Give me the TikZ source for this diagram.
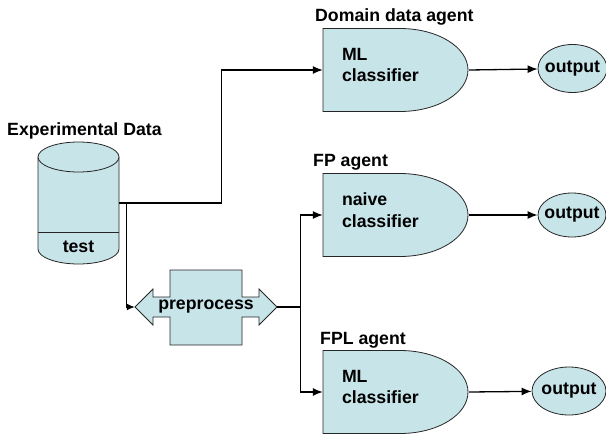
\documentclass[tikz,border=0pt]{standalone}
\usepackage{fontspec}
\setmainfont{Liberation Sans}
\usetikzlibrary{arrows.meta,shapes.geometric}
\definecolor{agentblue}{RGB}{199,228,232}
\tikzset{
  shapebox/.style={draw=black!85,line width=0.8pt,fill=agentblue},
  link/.style={line width=1.3pt,-{Latex[length=10pt,width=8pt]}},
  clsnode/.style={minimum width=146pt,minimum height=83pt,inner sep=0pt,
    text width=108pt,align=left,text depth=31pt},
  outnode/.style={shapebox,ellipse,inner xsep=-4pt,inner ysep=0pt},
  agenttitle/.style={anchor=base west,inner sep=0pt},
}
\begin{document}
\begin{tikzpicture}[x=1pt,y=-1pt,font=\fontsize{17.7}{21.2}\selectfont\bfseries]
    \useasboundingbox (0,0) rectangle (606,434);
    % data store
    \draw[shapebox] (38,157) -- (38,249) arc[start angle=180,end angle=0,x radius=40.5,y radius=15] -- (119,157);
    \draw[shapebox] (78.5,157) ellipse[x radius=40.5,y radius=15];
    \draw[shapebox] (38,232) -- (119,232);
    \node[minimum width=81pt,minimum height=122pt,inner sep=0pt] (db) at (78.5,203) {};
    \node[anchor=base] (ttest) at (78.5,252) {test};
    \node[agenttitle] (tdata) at (7,135.5) {Experimental Data};
    % preprocess
    \draw[shapebox] (135,307) -- (153,289) -- (153,297) -- (170,297) -- (170,270) -- (242,270) -- (242,297)
        -- (259,297) -- (259,289) -- (277,307) -- (259,325) -- (259,317) -- (242,317) -- (242,345)
        -- (170,345) -- (170,317) -- (153,317) -- (153,325) -- cycle;
    \node[minimum width=142pt,minimum height=75pt,inner sep=0pt] (pre) at (206,307) {preprocess};
    % agents
    \foreach \y in {70,215,392}
        \draw[shapebox] (323,\y-41.5) -- (400,\y-41.5) arc[start angle=-90,end angle=90,x radius=68,y radius=41.5]
            -- (323,\y+41.5) -- cycle;
    \node[clsnode] (ml1) at (396,70) {ML\\classifier};
    \node[clsnode] (nb1) at (396,215) {naive\\classifier};
    \node[clsnode] (ml2) at (396,392) {ML\\classifier};
    \node[agenttitle] (tdom) at (315,21.5) {Domain data agent};
    \node[agenttitle] (tfp) at (313,166.5) {FP agent};
    \node[agenttitle] (tfpl) at (320,344) {FPL agent};
    \node[outnode,minimum width=69pt,minimum height=48pt] (out1) at (572.5,68.5) {output};
    \node[outnode,minimum width=68pt,minimum height=44pt] (out2) at (572,215) {output};
    \node[outnode,minimum width=74pt,minimum height=48pt] (out3) at (569,391) {output};
    % connectors
    \draw[link] (db.east) -- ++(102,0) |- (ml1.west);
    \draw[line width=1.3pt,-{Latex[length=8pt,width=7pt]}] (db.east) -- ++(7,0) |- (pre.west);
    \draw[link] (pre.east) -- ++(23,0) |- (nb1.west);
    \draw[link] (pre.east) -- ++(23,0) |- (ml2.west);
    \draw[link] (ml1.east) -- (out1);
    \draw[link] (nb1.east) -- (out2);
    \draw[link] (ml2.east) -- (out3);
\end{tikzpicture}
\end{document}
